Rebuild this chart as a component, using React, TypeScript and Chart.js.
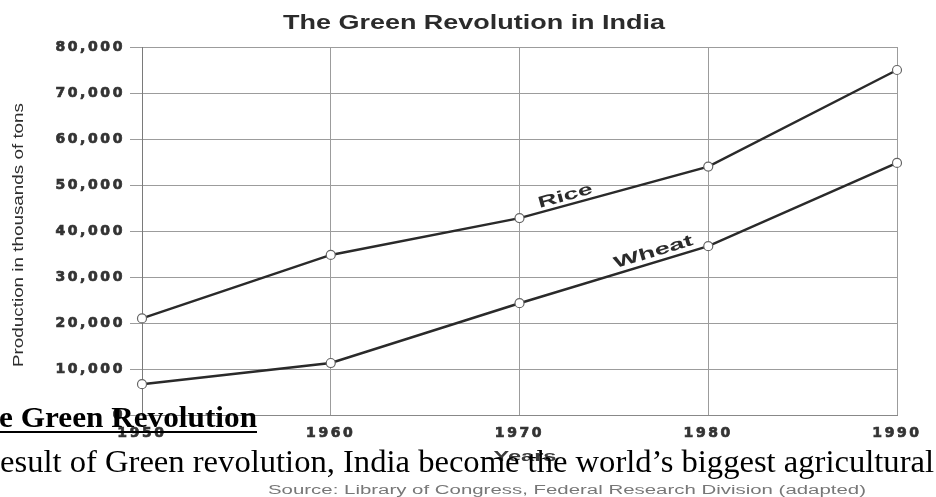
import React, { useEffect, useRef } from "react";
import { Chart, registerables } from "chart.js";

Chart.register(...registerables);

const years = ["1950", "1960", "1970", "1980", "1990"];
const rice = [21000, 34800, 42800, 54000, 75000];
const wheat = [6700, 11300, 24300, 36700, 54800];
const yMin = 0;
const yMax = 80000;
const yStep = 10000;
const chartTitle = "The Green Revolution in India";
const yTitle = "Production in thousands of tons";
const xTitle = "Years";
const sourceText = "Source: Library of Congress, Federal Research Division (adapted)";
const headingText = "e Green Revolution";
const bodyText = "esult of Green revolution, India become the world\u2019s biggest agricultural";
const lineLabels = ["Rice", "Wheat"];

function fitText(
  ctx: CanvasRenderingContext2D,
  text: string,
  font: string,
  x: number,
  y: number,
  width: number,
  align: CanvasTextAlign,
  color: string,
  rotate = 0
) {
  ctx.save();
  ctx.font = font;
  (ctx as any).letterSpacing = "0px";
  const w = ctx.measureText(text).width;
  const s = width / w;
  ctx.translate(x, y);
  if (rotate) ctx.rotate(rotate);
  ctx.scale(s, 1);
  ctx.textAlign = align;
  ctx.textBaseline = "middle";
  ctx.fillStyle = color;
  ctx.fillText(text, 0, 0);
  ctx.restore();
}

const spacingPlugin = {
  id: "spacing",
  beforeDraw(chart: any) {
    (chart.ctx as any).letterSpacing = "2.6px";
  },
  afterDraw(chart: any) {
    (chart.ctx as any).letterSpacing = "0px";
  },
};

const textPlugin = {
  id: "texts",
  afterDraw(chart: any) {
    const ctx: CanvasRenderingContext2D = chart.ctx;
    fitText(ctx, chartTitle, 'bold 21px "Liberation Sans"', 283, 23, 382, "left", "#2b2b2b");
    fitText(ctx, yTitle, '15px "Liberation Sans"', 19, 235, 264, "center", "#2e2e2e", -Math.PI / 2);
    fitText(ctx, xTitle, 'bold 14px "Liberation Sans"', 525, 457, 63, "center", "#3a3a3a");
    fitText(ctx, sourceText, '12px "Liberation Sans"', 268, 491, 598, "left", "#777");

    const fracs = [0.255, 0.725];
    const widths = [56, 82];
    const offs = [9, 10];
    for (let i = 0; i < 2; i++) {
      const pts = chart.getDatasetMeta(i).data;
      const a = pts[2];
      const b = pts[3];
      const t = fracs[i];
      const px = a.x + (b.x - a.x) * t;
      const py = a.y + (b.y - a.y) * t;
      const ang = Math.atan2(b.y - a.y, b.x - a.x);
      const cx = px + Math.sin(ang) * offs[i];
      const cy = py - Math.cos(ang) * offs[i];
      fitText(ctx, lineLabels[i], 'bold 16px "Liberation Sans"', cx, cy, widths[i], "center", "#2b2b2b", ang);
    }

    ctx.save();
    ctx.font = 'bold 30px "Liberation Serif"';
    const hw = ctx.measureText(headingText).width;
    ctx.translate(-1, 427);
    ctx.scale(258 / hw, 1);
    ctx.textAlign = "left";
    ctx.textBaseline = "alphabetic";
    ctx.fillStyle = "#000";
    ctx.fillText(headingText, 0, 0);
    ctx.restore();
    ctx.fillStyle = "#000";
    ctx.fillRect(0, 431, 257, 2);

    ctx.save();
    ctx.font = '31px "Liberation Serif"';
    const bw = ctx.measureText(bodyText).width;
    ctx.translate(0, 472);
    ctx.scale(934 / bw, 1);
    ctx.textAlign = "left";
    ctx.textBaseline = "alphabetic";
    ctx.fillStyle = "#000";
    ctx.fillText(bodyText, 0, 0);
    ctx.restore();
  },
};

export default function App() {
  const ref = useRef<HTMLCanvasElement>(null);
  useEffect(() => {
    document.body.style.margin = "0";
    const canvas = ref.current!;
    const tickFont = { family: '"DejaVu Sans"', size: 14, weight: "bold" as const };
    const ds = (label: string, data: number[]) => ({
      label,
      data,
      borderColor: "#2a2a2a",
      borderWidth: 2.5,
      pointRadius: 4.5,
      pointBackgroundColor: "#ffffff",
      pointBorderColor: "#666",
      pointBorderWidth: 1.2,
      tension: 0,
    });
    const chart = new Chart(canvas, {
      type: "line",
      data: {
        labels: years,
        datasets: [ds("Rice", rice), ds("Wheat", wheat)],
      },
      options: {
        responsive: false,
        maintainAspectRatio: false,
        animation: false,
        layout: { padding: { top: 47, right: 39, left: 0, bottom: 0 } },
        plugins: {
          legend: { display: false },
          title: { display: false },
          tooltip: { enabled: false },
        },
        scales: {
          x: {
            type: "category",
            offset: false,
            grid: { color: "#9c9c9c", lineWidth: 1, drawTicks: false },
            border: { display: true, color: "#888" },
            ticks: {
              font: tickFont,
              color: "#333",
              textStrokeColor: "#333",
              textStrokeWidth: 0.7,
              padding: 10,
              maxRotation: 0,
              autoSkip: false,
            },
            afterFit: (scale: any) => {
              scale.height = 82;
            },
          },
          y: {
            min: yMin,
            max: yMax,
            grid: { color: "#9c9c9c", lineWidth: 1, tickLength: 12 },
            border: { display: true, color: "#7a7a7a" },
            ticks: {
              stepSize: yStep,
              font: tickFont,
              color: "#333",
              textStrokeColor: "#333",
              textStrokeWidth: 0.7,
              padding: 5,
              callback: (v: any) => Number(v).toLocaleString("en-US"),
            },
            afterFit: (scale: any) => {
              scale.width = 142;
            },
          },
        },
      },
      plugins: [spacingPlugin, textPlugin],
    });
    return () => chart.destroy();
  }, []);
  return (
    <div style={{ width: 936, height: 497, background: "#fff", overflow: "hidden" }}>
      <canvas ref={ref} width={936} height={497} style={{ display: "block", width: 936, height: 497 }} />
    </div>
  );
}
